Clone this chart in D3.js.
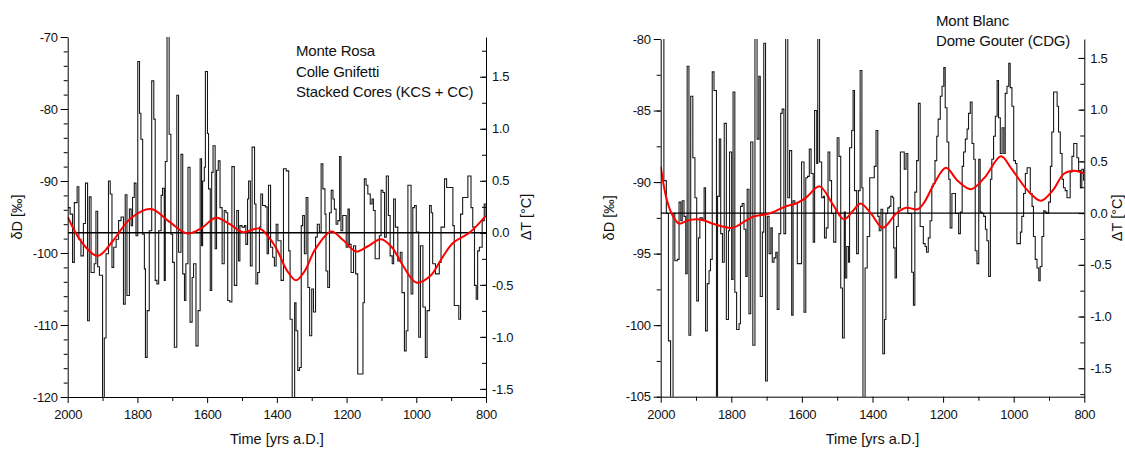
<!DOCTYPE html>
<html>
<head>
<meta charset="utf-8">
<script src="https://cdn.jsdelivr.net/npm/d3@7"></script>
<style>
  body { margin: 0; background: #fff; }
  svg text { font-family: Arial, "Liberation Sans", sans-serif; fill: #111; }
  .tick line, .domain { stroke: #000; }
  .tick text { font-size: 13px; letter-spacing: -0.3px; }
</style>
</head>
<body>
<svg id="chart" width="1125" height="453"></svg>
<script>
// ---- Monte Rosa / Colle Gnifetti (stacked cores), dD in permil
const crYears = [
  2000,1993,1986,1981,1973,1968,1962,1955,1949,1943,
  1938,1933,1924,1919,1914,1909,1900,1895,1890,1883,
  1878,1873,1868,1861,1854,1847,1840,1835,1830,1823,
  1818,1814,1809,1804,1799,1794,1790,1785,1780,1777,
  1772,1766,1759,1753,1749,1744,1739,1732,1728,1723,
  1720,1715,1709,1704,1699,1694,1687,1682,1675,1670,
  1665,1661,1655,1649,1643,1639,1632,1626,1620,1616,
  1613,1608,1605,1599,1596,1591,1587,1583,1577,1573,
  1568,1563,1557,1551,1546,1541,1535,1529,1522,1515,
  1510,1506,1500,1493,1489,1484,1481,1476,1471,1464,
  1460,1455,1450,1446,1441,1433,1428,1424,1418,1412,
  1407,1402,
  1397,1388,1381,1373,1366,1362,1356,1349,1345,1340,
  1335,1330,1326,1321,1316,1311,1306,1300,1295,1289,
  1284,1278,1273,1268,1262,1259,1254,1249,1244,1239,
  1235,1230,1225,1220,1216,1211,1201,1196,1192,1187,
  1180,1174,1168,1158,1153,1149,1144,1139,1132,1127,
  1123,1118,1106,1101,1096,1091,1086,1080,1075,1069,
  1065,1060,1053,1046,1041,1034,1029,1024,1015,1010,
  1005,1000,993,988,981,974,969,962,957,953,
  945,934,929,919,913,895,891,878,873,867,
  852,843,838,833,828,824,819,811,805,800
];
const crValues = [
  -93.7,-94.6,-101.3,-93.0,-90.8,-98.1,-100.4,-95.9,-90.3,-109.4,
  -92.2,-102.7,-101.5,-94.2,-101.9,-103.1,-121,-111.8,-100.1,-90.0,
  -91.8,-102.0,-99.2,-98.1,-95.5,-95.0,-107.1,-91.9,-105.9,-93.9,
  -96.2,-92.3,-90.3,-97.6,-73.4,-80.6,-84.2,-97.4,-102.2,-114.5,
  -108.0,-96.9,-76.1,-81.4,-103.8,-104.3,-96.9,-92.0,-91.0,-103.8,
  -87.3,-69.5,-83.5,-97.4,-101.3,-113.1,-78.1,-99.9,-86.3,-102.9,
  -106.6,-101.5,-88.1,-109.6,-103.4,-101.5,-112.9,-108.0,-86.9,-99.0,
  -90.0,-88.1,-74.8,-83.4,-91.1,-105.2,-88.8,-85.1,-99.4,-88.5,
  -87.2,-93.7,-101.5,-94.1,-94.4,-106.6,-106.8,-88.0,-104.5,-94.1,
  -101.1,-96.2,-96.4,-96.2,-98.8,-92.5,-90.0,-101.8,-85.3,-93.2,
  -104.3,-102.7,-96.4,-91.8,-93.4,-93.6,-100.1,-90.6,-99.2,-100.6,
  -101.8,-96.0,
  -98.3,-103.8,-88.3,-88.6,-99.7,-109.2,-120.5,-106.9,-110.8,-116.3,
  -115.9,-96.2,-94.8,-100.1,-92.3,-104.8,-111.5,-105.0,-108.2,-97.8,
  -96.0,-97.1,-87.6,-91.1,-94.6,-102.5,-104.8,-94.4,-91.3,-92.5,
  -93.9,-96.0,-95.5,-86.6,-96.9,-94.8,-99.2,-93.9,-98.8,-102.7,
  -99.0,-102.9,-116.8,-116.8,-106.9,-89.7,-90.6,-91.8,-93.2,-92.5,
  -94.1,-100.8,-97.6,-91.3,-91.6,-97.8,-89.3,-94.8,-100.4,-101.5,
  -92.5,-96.4,-101.1,-99.9,-105.5,-113.6,-110.8,-90.6,-105.7,-93.7,
  -93.4,-97.1,-111.7,-99.0,-107.5,-114.5,-108.0,-93.4,-94.4,-101.5,
  -102.9,-101.3,-96.4,-89.7,-90.9,-96.2,-107.3,-109.2,-94.6,-92.3,
  -89.3,-93.7,-96.4,-104.5,-106.4,-99.7,-99.2,-95.5,-93.2,-94.8
];
const crSmoothYears = [2000,1960,1914,1870,1820,1761,1710,1656,1615,1575,1535,1498,1450,1420,1400,1370,
  1345,1320,1290,1244,1210,1173,1140,1101,1070,1040,1000,960,930,895,848,800];
const crSmoothValues = [-95.0,-98.5,-100.4,-98.3,-95.2,-93.9,-95.6,-97.3,-96.5,-95.1,-96.0,-97.1,-96.6,-98.0,-99.5,-102.5,
  -103.8,-102.5,-99.5,-97.0,-98.2,-99.8,-99.1,-98.1,-99.2,-101.6,-104.1,-103.2,-101.0,-98.6,-97.2,-94.8];

// ---- Mont Blanc / Dome Gouter (CDG), dD in permil
const mbYears = [
  1997,1991,1984,1978,1972,1965,1960,1953,1948,1943,
  1939,1934,1929,1925,1920,1915,1909,1903,1898,1893,
  1889,1882,1877,1873,1868,1863,1859,1854,1849,1842,
  1839,1834,1830,1825,1820,1814,1808,1805,1799,1795,
  1790,1785,1778,1774,1769,1764,1759,1755,1750,1745,
  1739,1733,1727,1722,1718,1712,1708,1703,1698,1693,
  1688,1684,1679,1674,1670,1665,1660,1656,1651,1646,
  1640,1635,1629,1625,1620,1613,1601,1594,1589,1584,
  1579,1574,1568,1564,1558,1555,1550,1544,1539,1536,
  1531,1526,1521,1516,1510,1504,1500,1495,1490,1485,
  1480,1477,1473,1468,1465,1459,1455,1451,1445,1440,
  1435,1430,1427,1421,1415,1408,
  1400,1395,1390,1385,1381,1376,1371,1366,1362,1357,
  1352,1348,1343,1340,1336,1332,1327,1321,1310,1305,
  1300,1289,1284,1280,1275,1270,1265,1256,1251,1247,
  1242,1237,1232,1228,1223,1218,1214,1208,1203,1198,
  1194,1189,1184,1180,1175,1165,1156,1151,1146,1142,
  1137,1132,1128,1123,1118,1113,1109,1104,1099,1095,
  1090,1085,1080,1076,1071,1066,1062,1057,1052,1047,
  1043,1038,1033,1028,1024,1019,1014,1010,1005,1000,
  995,991,981,977,972,967,962,953,948,944,
  939,934,929,925,920,915,911,906,901,896,
  892,887,877,873,868,863,859,854,849,840,
  835,830,821,816,811,807,802
];
const mbValues = [
  -78,-89.9,-92.2,-101.1,-106,-92.2,-95.5,-95.4,-91.4,-92.7,
  -91.3,-92.4,-96.4,-81.9,-100.7,-84.0,-88.3,-91.1,-98.3,-93.9,
  -92.5,-92.6,-90.4,-100.4,-97.1,-96.2,-95.4,-82.3,-83.6,-106,
  -91.0,-87.0,-93.6,-95.6,-85.9,-99.6,-93.4,-87.9,-96.8,-83.7,
  -97.7,-100.3,-99.9,-91.7,-91.5,-93.3,-96.6,-90.5,-99.2,-87.2,
  -101.4,-78,-87.0,-82.6,-98.0,-93.5,-80.3,-103.9,-92.4,-95.0,
  -93.2,-95.6,-95.3,-94.9,-98.9,-93.6,-85.2,-84.9,-93.6,-78,
  -91.1,-87.8,-99.3,-91.3,-91.5,-95.7,-88.6,-99.1,-89.7,-89.6,
  -87.7,-89.4,-94.2,-85.0,-88.7,-78,-88.6,-91.1,-91.0,-93.9,
  -93.2,-87.9,-89.9,-92.2,-94.2,-92.0,-86.9,-88.2,-97.4,-100.9,
  -92.1,-96.7,-94.5,-95.6,-87.6,-86.4,-83.6,-90.6,-95.0,-90.6,
  -82.2,-90.4,-106,-96.0,-93.8,-89.7,
  -89.7,-88.9,-86.4,-92.4,-93.4,-91.9,-102.0,-99.6,-92.2,-91.8,
  -91.7,-91.0,-91.1,-94.6,-96.7,-93.1,-91.8,-87.9,-89.1,-88.0,
  -92.2,-96.3,-98.6,-90.7,-88.5,-84.5,-93.1,-94.3,-94.5,-94.9,
  -93.9,-92.7,-90.3,-90.1,-88.5,-86.8,-85.6,-84.0,-83.3,-82.0,
  -84.8,-87.2,-89.8,-93.2,-90.8,-92.2,-93.6,-92.1,-88.9,-87.9,
  -87.0,-86.3,-85.2,-84.4,-87.3,-88.4,-94.8,-95.7,-88.4,-92.1,
  -92.2,-92.4,-93.3,-94.1,-96.6,-89.8,-88.4,-86.8,-85.4,-82.9,
  -85.5,-88.0,-86.2,-88.0,-83.8,-83.3,-81.7,-83.4,-84.7,-88.5,
  -88.7,-94.3,-93.5,-92.4,-90.8,-89.4,-89.0,-90.8,-91.7,-93.8,
  -95.4,-96.0,-96.9,-95.9,-93.8,-92.0,-92.1,-92.2,-91.4,-88.9,
  -86.5,-83.7,-84.7,-86.5,-88.0,-89.8,-90.4,-90.6,-91.1,-89.3,
  -88.2,-87.3,-88.3,-89.2,-90.4,-89.1,-89.9
];
const mbSmoothYears = [2000,1985,1969,1948,1925,1901,1875,1854,1825,1797,1759,1736,1693,1646,1617,1589,1550,1514,1481,1455,
  1434,1404,1371,1333,1305,1272,1253,1225,1192,1159,1121,1083,1036,1008,960,923,890,857,828,800];
const mbSmoothValues = [-88.9,-91.0,-92.2,-92.9,-92.7,-92.6,-92.7,-92.9,-93.1,-93.2,-92.7,-92.4,-92.2,-91.7,-91.5,-91.1,-90.3,-91.5,-92.6,-92.0,
  -91.5,-92.2,-93.2,-92.2,-91.8,-91.9,-91.4,-90.1,-89.0,-89.9,-90.5,-89.7,-88.2,-89.0,-90.6,-91.3,-90.6,-89.4,-89.2,-89.4];

// ---- axes
const timeDomain = [2000, 800];
const timeTicks = [2000, 1800, 1600, 1400, 1200, 1000, 800];
const timeMinor = [1900, 1700, 1500, 1300, 1100, 900];
const crDDomain = [-120, -70];
const crDTicks = [-120, -110, -100, -90, -80, -70];
const mbDDomain = [-105, -80];
const mbDTicks = [-105, -100, -95, -90, -85, -80];
const tempTicks = [-1.5, -1.0, -0.5, 0.0, 0.5, 1.0, 1.5];
const crTempDomain = [-1.578, 1.882];
const mbTempDomain = [-1.775, 1.683];

const svg = d3.select('#chart');
let clipId = 0;

function drawPanel(p) {
  const x = d3.scaleLinear().domain(timeDomain).range([p.left, p.right]);
  const y = d3.scaleLinear().domain(p.dDomain).range([p.bottom, p.top]);
  const t = d3.scaleLinear().domain(p.tDomain).range([p.bottom, p.top]);

  const g = svg.append('g');
  const cid = 'clip' + (clipId++);
  g.append('clipPath').attr('id', cid).append('rect')
    .attr('x', p.left).attr('y', p.top)
    .attr('width', p.right - p.left).attr('height', p.bottom - p.top);

  const plot = g.append('g').attr('clip-path', `url(#${cid})`);

  const steps = p.years.map((yr, i) => [yr, p.values[i]]);
  plot.append('path')
    .datum(steps)
    .attr('fill', 'none')
    .attr('stroke', '#1a1a1a')
    .attr('stroke-width', 1.1)
    .attr('d', d3.line().x(d => x(d[0])).y(d => y(d[1])).curve(d3.curveStepAfter));

  // zero line of the temperature axis
  plot.append('line')
    .attr('x1', p.left).attr('x2', p.right)
    .attr('y1', t(0)).attr('y2', t(0))
    .attr('stroke', '#000').attr('stroke-width', 1.4);

  const smooth = p.sYears.map((yr, i) => [yr, p.sValues[i]]);
  plot.append('path')
    .datum(smooth)
    .attr('fill', 'none')
    .attr('stroke', '#ff0000')
    .attr('stroke-width', 2)
    .attr('d', d3.line().x(d => x(d[0])).y(d => y(d[1])).curve(d3.curveCatmullRom.alpha(0.5)));

  // bottom axis
  g.append('g').attr('transform', `translate(0,${p.bottom})`)
    .call(d3.axisBottom(x).tickValues(timeMinor).tickSize(4).tickFormat(''))
    .call(a => a.select('.domain').remove());
  g.append('g').attr('transform', `translate(0,${p.bottom})`)
    .call(d3.axisBottom(x).tickValues(timeTicks).tickSizeInner(6).tickSizeOuter(0).tickPadding(7).tickFormat(d => String(d)));

  // left dD axis
  g.append('g').attr('transform', `translate(${p.left},0)`)
    .call(d3.axisLeft(y).tickValues(d3.range(p.dDomain[0], p.dDomain[1], p.dMinor)).tickSize(4).tickFormat(''))
    .call(a => a.select('.domain').remove());
  g.append('g').attr('transform', `translate(${p.left},0)`)
    .call(d3.axisLeft(y).tickValues(p.dTicks).tickSizeInner(7).tickSizeOuter(0).tickPadding(3).tickFormat(d => String(d)));

  // right dT axis, ticks pointing inwards
  const tMinor = d3.range(-1.75, 1.76, 0.25).filter(v => v >= p.tDomain[0] && v <= p.tDomain[1]);
  g.append('g').attr('transform', `translate(${p.right},0)`)
    .call(d3.axisRight(t).tickValues(tMinor).tickSizeInner(-4).tickFormat(''))
    .call(a => a.select('.domain').remove());
  g.append('g').attr('transform', `translate(${p.right},0)`)
    .call(d3.axisRight(t).tickValues(tempTicks).tickSizeInner(-6).tickSizeOuter(0).tickPadding(6).tickFormat(d => d.toFixed(1)));

  // axis titles
  g.append('text')
    .attr('x', (p.left + p.right) / 2).attr('y', 444)
    .attr('text-anchor', 'middle').style('font-size', '14.5px')
    .text('Time [yrs a.D.]');
  g.append('text')
    .attr('transform', `translate(${p.dLabelX},${(p.top + p.bottom) / 2}) rotate(-90)`)
    .attr('text-anchor', 'middle').style('font-size', '14.5px')
    .text('δD [‰]');
  g.append('text')
    .attr('transform', `translate(${p.tLabelX},${(p.top + p.bottom) / 2}) rotate(-90)`)
    .attr('text-anchor', 'middle').style('font-size', '14.5px')
    .text('ΔT [°C]');

  // site annotation
  p.note.forEach((line, i) => {
    g.append('text')
      .attr('x', p.noteX).attr('y', p.noteY + i * 20.5)
      .style('font-size', '15px').style('letter-spacing', '-0.2px')
      .text(line);
  });
}

drawPanel({
  years: crYears, values: crValues, sYears: crSmoothYears, sValues: crSmoothValues,
  left: 67.7, right: 486, top: 37, bottom: 397,
  dDomain: crDDomain, dTicks: crDTicks, dMinor: 2, tDomain: crTempDomain,
  dLabelX: 22, tLabelX: 531,
  note: ['Monte Rosa', 'Colle Gnifetti', 'Stacked Cores (KCS + CC)'], noteX: 296, noteY: 56
});

drawPanel({
  years: mbYears, values: mbValues, sYears: mbSmoothYears, sValues: mbSmoothValues,
  left: 660.7, right: 1084.3, top: 39, bottom: 396.7,
  dDomain: mbDDomain, dTicks: mbDTicks, dMinor: 2.5, tDomain: mbTempDomain,
  dLabelX: 614, tLabelX: 1122,
  note: ['Mont Blanc', 'Dome Gouter (CDG)'], noteX: 936, noteY: 25.5
});
</script>
</body>
</html>
